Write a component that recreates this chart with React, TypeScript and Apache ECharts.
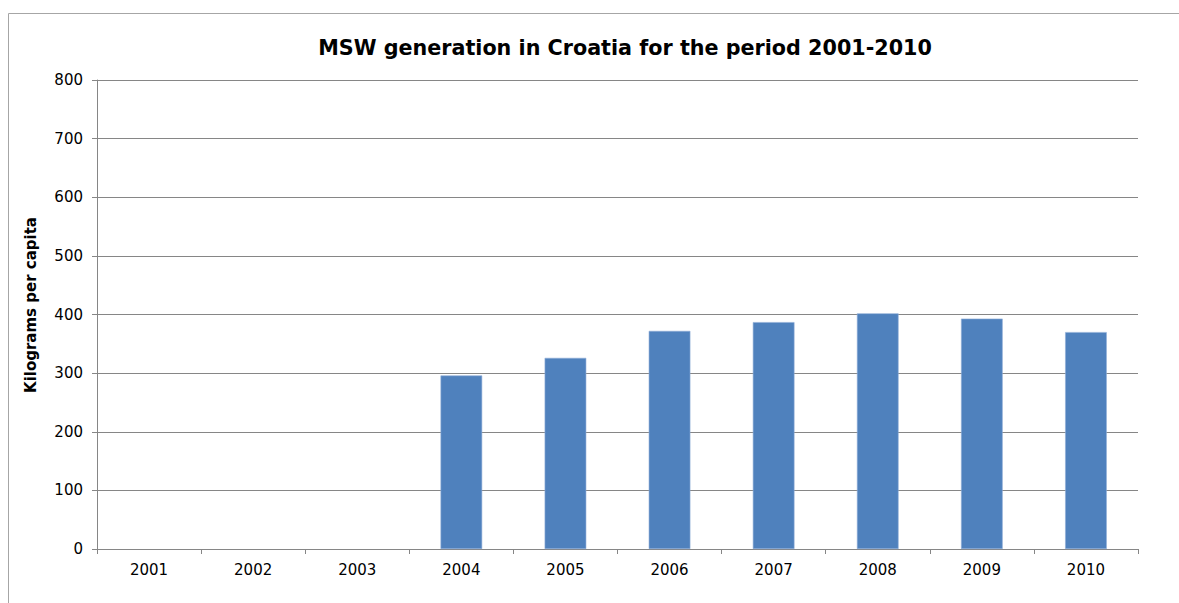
import React, { useEffect, useRef } from "react";
import * as echarts from "echarts";

const years = ["2001", "2002", "2003", "2004", "2005", "2006", "2007", "2008", "2009", "2010"];
const kgPerCapita: (number | null)[] = [null, null, null, 296, 326, 372, 387, 402, 393, 370];
const yTicks = { min: 0, max: 800, interval: 100 };

const FONT = "'DejaVu Sans', Verdana, sans-serif";
const GRID_GRAY = "#868686";

export default function App() {
  const ref = useRef<HTMLDivElement>(null);

  useEffect(() => {
    if (!ref.current) return;
    const chart = echarts.init(ref.current, undefined, { renderer: "svg" });
    chart.setOption({
      animation: false,
      backgroundColor: "#ffffff",
      graphic: [
        {
          type: "rect",
          shape: { x: 8.5, y: 13.5, width: 1400, height: 800 },
          style: { fill: "none", stroke: "#a6a6a6", lineWidth: 1 },
          silent: true,
        },
        {
          type: "text",
          x: 31,
          y: 305,
          rotation: Math.PI / 2,
          style: {
            text: "Kilograms per capita",
            fontFamily: FONT,
            fontWeight: "bold",
            fontSize: 15,
            fill: "#000",
            align: "center",
            verticalAlign: "middle",
          },
          silent: true,
        },
      ],
      title: {
        text: "MSW generation in Croatia for the period 2001-2010",
        left: 620,
        top: 32,
        textAlign: "center",
        textStyle: { fontFamily: FONT, fontWeight: "bold", fontSize: 20.7, color: "#000" },
      },
      grid: { left: 97, right: 41, top: 80, bottom: 54 },
      xAxis: {
        type: "category",
        data: years,
        axisLine: { lineStyle: { color: GRID_GRAY, width: 1 } },
        axisTick: { show: true, length: 5, lineStyle: { color: GRID_GRAY } },
        axisLabel: { fontFamily: FONT, fontSize: 15, color: "#000", margin: 13 },
      },
      yAxis: {
        type: "value",
        min: yTicks.min,
        max: yTicks.max,
        interval: yTicks.interval,
        axisLine: { show: true, lineStyle: { color: GRID_GRAY, width: 1 } },
        axisTick: { show: true, length: 5, lineStyle: { color: GRID_GRAY } },
        axisLabel: { fontFamily: FONT, fontSize: 15, color: "#000", margin: 14 },
        splitLine: { lineStyle: { color: GRID_GRAY, width: 1 } },
      },
      series: [
        {
          type: "bar",
          data: kgPerCapita,
          barWidth: "40%",
          itemStyle: { color: "#4f81bd", borderColor: "#8eacd6", borderWidth: 0.6 },
        },
      ],
    });
    return () => chart.dispose();
  }, []);

  return (
    <div
      ref={ref}
      style={{ position: "fixed", left: 0, top: 0, width: 1179, height: 603 }}
    />
  );
}
